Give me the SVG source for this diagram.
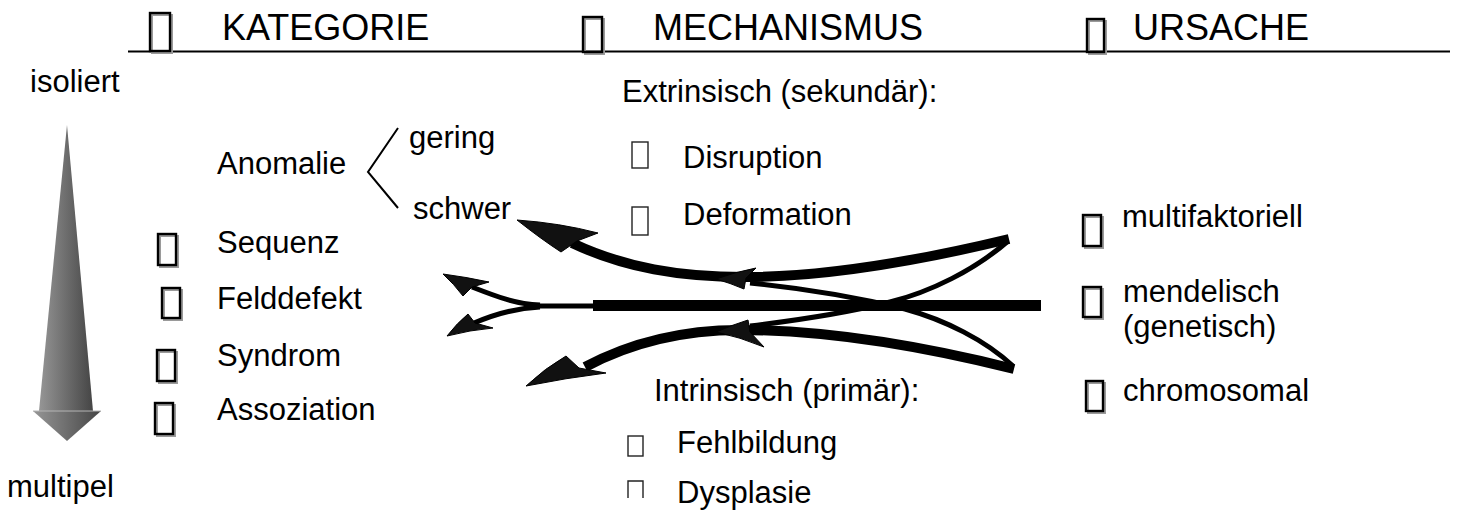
<svg xmlns="http://www.w3.org/2000/svg" width="1458" height="514" viewBox="0 0 1458 514">
  <defs>
    <style>
      text { font-family: "Liberation Sans", Arial, sans-serif; fill: #000; }
      .head { font-size: 36px; }
      .lbl { font-size: 31px; }
      .box { fill: none; stroke: #000; stroke-width: 2.4; }
      .boxs { fill: none; stroke: #9a9a9a; stroke-width: 2; }
      .thin-box { fill: none; stroke: #222; stroke-width: 1.4; }
      .rule { stroke: #000; stroke-width: 2; fill: none; }
      .thick { fill: none; stroke: #000; stroke-width: 10; }
      .mid { fill: none; stroke: #000; stroke-width: 5; }
      .bar { fill: none; stroke: #000; stroke-width: 11; }
      .tip { fill: #111; stroke: #000; stroke-width: 1; stroke-linejoin: round; }
    </style>
    <linearGradient id="shaftGrad" x1="0" y1="0" x2="1" y2="0">
      <stop offset="0" stop-color="#969696"/>
      <stop offset="1" stop-color="#454545"/>
    </linearGradient>
  </defs>

  <!-- header row -->
  <g id="header">
    <line class="rule" x1="128" y1="51.5" x2="1450" y2="51.5"/>
    <rect class="boxs" x="152" y="15" width="20" height="38"/>
    <rect class="box" x="150" y="13" width="20" height="38"/>
    <text class="head" x="222" y="40">KATEGORIE</text>
    <rect class="boxs" x="585" y="19" width="19" height="35"/>
    <rect class="box" x="583" y="17" width="19" height="35"/>
    <text class="head" x="653" y="40">MECHANISMUS</text>
    <rect class="boxs" x="1089" y="21" width="17" height="33"/>
    <rect class="box" x="1087" y="19" width="17" height="33"/>
    <text class="head" x="1133" y="40">URSACHE</text>
  </g>

  <!-- isolated to multiple scale -->
  <g id="scale">
    <text class="lbl" x="30" y="92">isoliert</text>
    <polygon points="67,125 93,411 39,411" fill="url(#shaftGrad)"/>
    <polygon points="33,411 101,411 67,441" fill="url(#shaftGrad)"/>
    <line x1="33" y1="411" x2="101" y2="411" stroke="#b5b5b5" stroke-width="1"/>
    <text class="lbl" x="7" y="497">multipel</text>
  </g>

  <!-- category column -->
  <g id="anomalie">
    <text class="lbl" x="217" y="174">Anomalie</text>
    <polyline class="rule" points="398,128 368,172 398,208"/>
    <text class="lbl" x="409" y="148">gering</text>
    <text class="lbl" x="413" y="219">schwer</text>
  </g>
  <g id="sequenz">
    <rect class="boxs" x="160" y="236" width="18" height="31"/>
    <rect class="box" x="158" y="234" width="18" height="31"/>
    <text class="lbl" x="217" y="253">Sequenz</text>
  </g>
  <g id="felddefekt">
    <rect class="boxs" x="164" y="290" width="18" height="30"/>
    <rect class="box" x="162" y="288" width="18" height="30"/>
    <text class="lbl" x="217" y="309">Felddefekt</text>
  </g>
  <g id="syndrom">
    <rect class="boxs" x="159" y="352" width="18" height="31"/>
    <rect class="box" x="157" y="350" width="18" height="31"/>
    <text class="lbl" x="217" y="366">Syndrom</text>
  </g>
  <g id="assoziation">
    <rect class="boxs" x="157" y="405" width="18" height="31"/>
    <rect class="box" x="155" y="403" width="18" height="31"/>
    <text class="lbl" x="217" y="420">Assoziation</text>
  </g>

  <!-- mechanism column -->
  <g id="extrinsisch">
    <text class="lbl" x="622" y="102">Extrinsisch (sekundär):</text>
    <rect class="thin-box" x="632" y="142" width="16" height="26"/>
    <text class="lbl" x="683" y="168">Disruption</text>
    <rect class="thin-box" x="632" y="207" width="16" height="28"/>
    <text class="lbl" x="683" y="225">Deformation</text>
  </g>
  <g id="intrinsisch">
    <text class="lbl" x="654" y="401">Intrinsisch (primär):</text>
    <rect class="thin-box" x="628" y="436" width="15" height="20"/>
    <text class="lbl" x="677" y="453">Fehlbildung</text>
    <path class="thin-box" d="M628,498 V481 H643 V498"/>
    <text class="lbl" x="677" y="503">Dysplasie</text>
  </g>

  <!-- cause column -->
  <g id="multifaktoriell">
    <rect class="boxs" x="1085" y="217" width="18" height="31"/>
    <rect class="box" x="1083" y="215" width="18" height="31"/>
    <text class="lbl" x="1122" y="227">multifaktoriell</text>
  </g>
  <g id="mendelisch">
    <rect class="boxs" x="1085" y="289" width="18" height="30"/>
    <rect class="box" x="1083" y="287" width="18" height="30"/>
    <text class="lbl" x="1123" y="302">mendelisch</text>
    <text class="lbl" x="1123" y="337">(genetisch)</text>
  </g>
  <g id="chromosomal">
    <rect class="boxs" x="1088" y="383" width="17" height="30"/>
    <rect class="box" x="1086" y="381" width="17" height="30"/>
    <text class="lbl" x="1123" y="401">chromosomal</text>
  </g>

  <!-- connectors -->
  <g id="connectors">
    <!-- upper thick arc to "schwer" -->
    <path class="thick" d="M1009,239 C930,258 830,277 745,277 C680,277 625,268 572,243"/>
    <!-- lower thick arc -->
    <path class="thick" d="M1014,369 C930,348 830,330 740,330 C680,330 630,343 585,367"/>
    <!-- crossing thin curves -->
    <path class="mid" d="M1008,241 C975,270 930,292 890,302 C850,312 800,320 750,326"/>
    <path class="mid" d="M1013,366 C985,340 945,320 905,309 C860,298 800,288 750,283"/>
    <!-- straight bar and fork -->
    <line class="bar" x1="593" y1="305.5" x2="1041" y2="305.5"/>
    <line class="mid" x1="535" y1="306" x2="595" y2="306"/>
    <path class="mid" d="M540,305 C515,304 495,296 472,287"/>
    <path class="mid" d="M540,307 C515,308 495,314 474,323"/>

    <!-- arrowheads -->
    <path class="tip" d="M517,220 Q560,223 598,233 L577,241 L561,252 Q541,239 517,220 Z"/>
    <path class="tip" d="M526,386 Q545,368 566,356 L579,368 L606,373 Q566,378 526,386 Z"/>
    <path class="tip" d="M443,274 Q466,277 489,282 L472,287 L463,296 Q454,284 443,274 Z"/>
    <path class="tip" d="M447,336 Q457,323 468,314 L475,323 L493,328 Q470,330 447,336 Z"/>
    <path class="tip" d="M716,279 Q735,272 756,268 L746,278 L744,289 Q730,283 716,279 Z"/>
    <path class="tip" d="M716,332 Q732,325 748,320 L750,332 L764,347 Q740,337 716,332 Z"/>
  </g>
</svg>
